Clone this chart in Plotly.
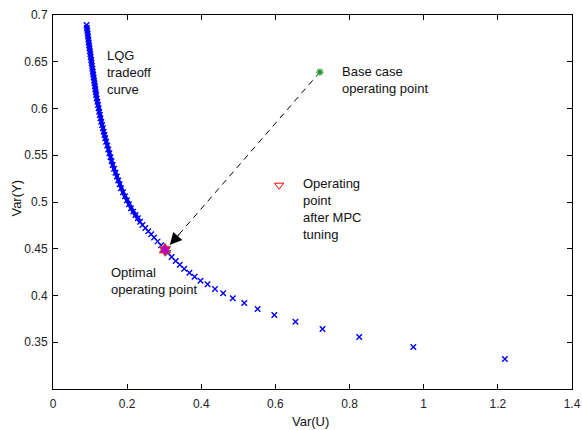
import plotly.graph_objects as go

# LQG tradeoff curve (Var(U), Var(Y))
lqg_var_u = [
    0.0905, 0.0915, 0.0925, 0.0935, 0.0945, 0.0955, 0.0965, 0.0975,
    0.0985, 0.0996, 0.1007, 0.1018, 0.1029, 0.1041, 0.1052, 0.1063,
    0.1074, 0.1085, 0.1097, 0.1108, 0.1120, 0.1131, 0.1142, 0.1154,
    0.1165, 0.1181, 0.1198, 0.1214, 0.1231, 0.1247, 0.1264,
    0.1280, 0.1302, 0.1323, 0.1345, 0.1367, 0.1389, 0.1410,
    0.1432, 0.1462, 0.1491, 0.1521, 0.1551, 0.1580,
    0.1610, 0.1647, 0.1685, 0.1722, 0.1759, 0.1797,
    0.1834, 0.1888, 0.1941, 0.1995, 0.2048,
    0.2102, 0.2164, 0.2226, 0.2288, 0.2350,
    0.2412, 0.2491, 0.2569, 0.2648,
    0.2726, 0.2821, 0.2915,
    0.301, 0.310, 0.320, 0.331, 0.342, 0.354, 0.368, 0.382, 0.398,
    0.417, 0.437, 0.459, 0.485, 0.516, 0.552, 0.597, 0.654, 0.727,
    0.826, 0.972, 1.219,
]
lqg_var_y = [
    0.6893, 0.6862, 0.6831, 0.6800, 0.6769, 0.6737, 0.6706, 0.6675,
    0.6644, 0.6613, 0.6582, 0.6550, 0.6519, 0.6488, 0.6456, 0.6425,
    0.6394, 0.6363, 0.6332, 0.6300, 0.6269, 0.6238, 0.6206, 0.6175,
    0.6144, 0.6108, 0.6073, 0.6037, 0.6002, 0.5966, 0.5931,
    0.5895, 0.5859, 0.5824, 0.5788, 0.5752, 0.5716, 0.5681,
    0.5645, 0.5604, 0.5562, 0.5521, 0.5479, 0.5438,
    0.5396, 0.5355, 0.5313, 0.5272, 0.5230, 0.5189,
    0.5147, 0.5104, 0.5061, 0.5019, 0.4976,
    0.4933, 0.4897, 0.4861, 0.4826, 0.4790,
    0.4754, 0.4721, 0.4687, 0.4654,
    0.4620, 0.4579, 0.4538,
    0.4497, 0.4456, 0.4413, 0.4369, 0.4328, 0.4287, 0.4244, 0.4200, 0.4158,
    0.4120, 0.4070, 0.4024, 0.3970, 0.3920, 0.3856, 0.3791, 0.3720, 0.3642,
    0.3556, 0.3450, 0.3320,
]
# number of leading points that overlap into a solid band
dense_count = 60

optimal_u = [0.302]
optimal_y = [0.449]
base_u = [0.72]
base_y = [0.639]
mpc_u = [0.61]
mpc_y = [0.518]
arrow_line_u = [0.72, 0.315]
arrow_line_y = [0.639, 0.454]

x_ticks = [0, 0.2, 0.4, 0.6, 0.8, 1.0, 1.2, 1.4]
x_tick_text = ["0", "0.2", "0.4", "0.6", "0.8", "1", "1.2", "1.4"]
y_ticks = [0.35, 0.4, 0.45, 0.5, 0.55, 0.6, 0.65, 0.7]
y_tick_text = ["0.35", "0.4", "0.45", "0.5", "0.55", "0.6", "0.65", "0.7"]

FONT = "Liberation Sans, Arial, Helvetica, sans-serif"
BLUE = "#0000ff"

fig = go.Figure()

# overlapping crosses in the dense part read as a solid band
fig.add_trace(go.Scatter(
    x=lqg_var_u[:dense_count], y=lqg_var_y[:dense_count], mode="lines",
    line=dict(color=BLUE, width=4),
    hoverinfo="skip", showlegend=False))

fig.add_trace(go.Scatter(
    x=lqg_var_u, y=lqg_var_y, mode="markers",
    marker=dict(symbol="x-thin", size=5.5, color=BLUE,
                line=dict(color=BLUE, width=1.4)),
    hoverinfo="skip", showlegend=False))

fig.add_trace(go.Scatter(
    x=arrow_line_u, y=arrow_line_y, mode="lines",
    line=dict(color="black", width=1, dash="6px,5px"),
    hoverinfo="skip", showlegend=False))

fig.add_trace(go.Scatter(
    x=optimal_u, y=optimal_y, mode="markers",
    marker=dict(symbol="hexagram", size=10, color="#c000c0",
                line=dict(color="#c8501e", width=1)),
    showlegend=False))

fig.add_trace(go.Scatter(
    x=base_u, y=base_y, mode="markers",
    marker=dict(symbol="asterisk-open", size=6, color="#1e9628",
                line=dict(color="#1e9628", width=1.3)),
    showlegend=False))

fig.add_trace(go.Scatter(
    x=mpc_u, y=mpc_y, mode="markers",
    marker=dict(symbol="triangle-down-open", size=8, color="#ff0000",
                line=dict(color="#ff0000", width=1)),
    showlegend=False))

txt = dict(font=dict(family=FONT, size=13, color="#111111"),
           showarrow=False, xanchor="left", yanchor="middle", align="left",
           xref="x", yref="y")

annotations = [
    dict(x=0.139, y=0.6387, text="LQG<br>tradeoff<br>curve", **txt),
    dict(x=0.775, y=0.630, text="Base case<br>operating point", **txt),
    dict(x=0.668, y=0.4923, text="Operating<br>point<br>after MPC<br>tuning", **txt),
    dict(x=0.152, y=0.4157, text="Optimal<br>operating point", **txt),
    # arrow head
    dict(x=arrow_line_u[1], y=arrow_line_y[1], xref="x", yref="y",
         ax=11, ay=-12.5, axref="pixel", ayref="pixel",
         showarrow=True, arrowhead=2, arrowsize=2.2, arrowwidth=1.1,
         arrowcolor="black", standoff=0, text=""),
    # axis titles
    dict(x=0.4966, y=-0.0856, xref="paper", yref="paper", text="Var(U)",
         showarrow=False, xanchor="center", yanchor="middle",
         font=dict(family=FONT, size=13, color="#111111")),
    dict(x=-0.0707, y=0.51, xref="paper", yref="paper", text="Var(Y)",
         showarrow=False, xanchor="center", yanchor="middle", textangle=-90,
         font=dict(family=FONT, size=13, color="#111111")),
]

axis_common = dict(
    showgrid=False, zeroline=False, showline=True, linecolor="black",
    linewidth=1, mirror="ticks", ticks="inside", ticklen=5, tickwidth=1,
    tickcolor="black", tickfont=dict(family=FONT, size=12, color="#222222"),
    ticklabeloverflow="allow", automargin=False,
)

fig.update_layout(
    width=582, height=430,
    margin=dict(l=53, r=10, t=15, b=41),
    paper_bgcolor="white", plot_bgcolor="white",
    annotations=annotations,
    xaxis=dict(range=[0, 1.40001], tickvals=x_ticks, ticktext=x_tick_text,
               ticklabelstandoff=4, **axis_common),
    yaxis=dict(range=[0.3, 0.70001], tickvals=y_ticks, ticktext=y_tick_text,
               ticklabelstandoff=2, **axis_common),
)

fig.write_html("out.html")
